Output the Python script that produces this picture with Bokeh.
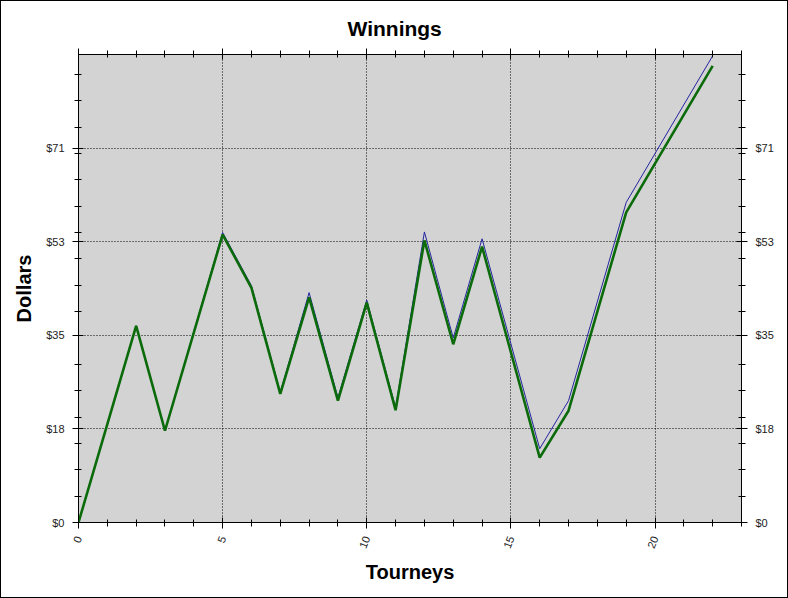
from bokeh.plotting import figure
from bokeh.models import FixedTicker, LinearAxis, Range1d, Title, Grid
from bokeh.embed import file_html
from bokeh.resources import INLINE

# ---- data ----
tourneys = [0, 2, 3, 5, 6, 7, 8, 9, 10, 11, 12, 13, 14, 16, 17, 19, 22]
series_blue = [0, 37.3, 17.4, 55.0, 44.9, 24.7, 43.6, 23.7, 42.2, 21.8, 55.1, 35.0, 53.8, 14.0, 23.1, 60.7, 88.5]
series_green = [0, 37.3, 17.4, 54.6, 44.5, 24.4, 42.7, 23.1, 41.7, 21.3, 53.5, 33.8, 52.3, 12.3, 21.2, 58.8, 86.6]

y_major = [0, 17.75, 35.5, 53.25, 71]
y_labels = ["$0", "$18", "$35", "$53", "$71"]
y_minor = [5, 10, 15, 20, 25, 30, 40, 45, 50, 55, 60, 65, 70, 75, 80, 85]
x_major = [0, 5, 10, 15, 20]
x_minor = [1, 2, 3, 4, 6, 7, 8, 9, 11, 12, 13, 14, 16, 17, 18, 19, 21, 22, 23]
x_max = 23
y_max = 88.75

FONT = "Liberation Sans"

p = figure(
    width=786, height=596,
    output_backend="svg", toolbar_location=None,
    x_range=Range1d(0, x_max), y_range=Range1d(0, y_max),
    x_axis_location=None, y_axis_location=None,
    min_border_left=77, min_border_right=46, min_border_top=53, min_border_bottom=75,
    background_fill_color="#d3d3d3", border_fill_color="white",
    outline_line_color="black", outline_line_width=1,
)
p.styles = {"margin": "1px", "outline": "1px solid black"}

p.title = Title(text="Winnings", align="left", text_font=FONT,
                text_font_size="21px", text_font_style="bold",
                text_color="black", standoff=17, offset=269)

yticker = FixedTicker(ticks=y_major, minor_ticks=y_minor)
xticker = FixedTicker(ticks=x_major, minor_ticks=x_minor)
overrides = {t: l for t, l in zip(y_major, y_labels)}


def style(ax):
    ax.axis_line_color = "black"
    ax.major_tick_line_color = "black"
    ax.minor_tick_line_color = "black"
    ax.major_tick_in = 5
    ax.major_tick_out = 6
    ax.minor_tick_in = 3
    ax.minor_tick_out = 4
    ax.major_label_text_font = FONT
    ax.major_label_text_font_size = "11px"
    ax.major_label_text_color = "#222222"
    ax.axis_label_text_font = FONT
    ax.axis_label_text_font_size = "20px"
    ax.axis_label_text_font_style = "bold"
    ax.axis_label_text_color = "black"


left = LinearAxis(ticker=yticker, axis_label="Dollars")
left.major_label_overrides = overrides
left.major_label_standoff = 8
left.axis_label_standoff = 8
style(left)
p.add_layout(left, "left")

right = LinearAxis(ticker=yticker)
right.major_label_overrides = overrides
right.major_label_standoff = 8
style(right)
p.add_layout(right, "right")

bottom = LinearAxis(ticker=xticker, axis_label="Tourneys")
bottom.major_label_orientation = 1.2
bottom.major_label_standoff = 8
bottom.axis_label_standoff = 7
style(bottom)
p.add_layout(bottom, "below")

top = LinearAxis(ticker=xticker)
style(top)
top.major_label_text_color = None
top.major_label_standoff = 0
p.add_layout(top, "above")

p.xgrid.visible = False
p.ygrid.visible = False
p.add_layout(Grid(dimension=0, ticker=xticker, grid_line_color="black",
                  grid_line_dash="1 2", grid_line_width=1))
p.add_layout(Grid(dimension=1, ticker=yticker, grid_line_color="black",
                  grid_line_dash="1 2", grid_line_width=1))

p.line(tourneys, series_blue, line_color="#2424a0", line_width=1)
p.line(tourneys, series_green, line_color="#0b6b0b", line_width=2.6)

open("out.html", "w").write(file_html(p, INLINE))
